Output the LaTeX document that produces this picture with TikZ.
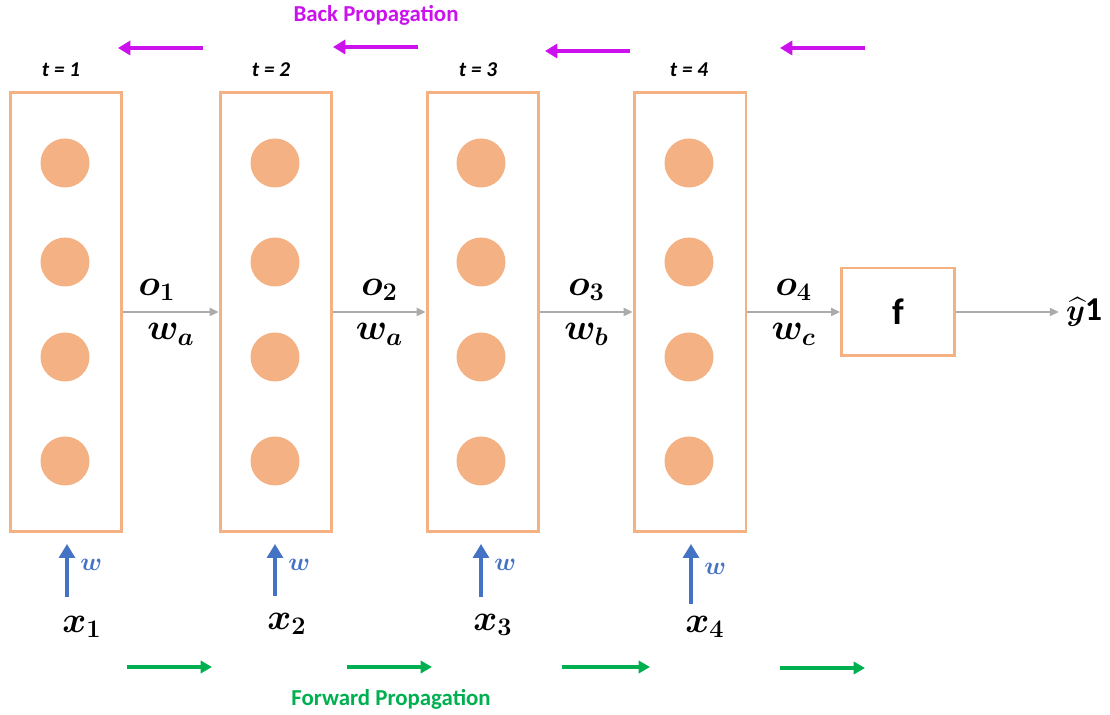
\documentclass[tikz,border=0pt]{standalone}
\usepackage{amsmath}
\usepackage{bm}
\usepackage{fontspec}
\setmainfont{Carlito}
\usetikzlibrary{arrows.meta,calc,positioning}
\definecolor{peach}{HTML}{F4B183}
\definecolor{flowgray}{HTML}{ABABAB}
\definecolor{backmag}{HTML}{CC11EE}
\definecolor{fwdgreen}{HTML}{00B050}
\definecolor{inblue}{HTML}{4472C4}
\tikzset{
  cell/.style={draw=peach,line width=1.7pt,minimum width=2.24cm,minimum height=8.78cm,inner sep=0pt},
  unit/.style={circle,fill=peach,minimum size=0.98cm,inner sep=0pt},
  flow/.style={draw=flowgray,line width=1.1pt,-{Triangle[length=5pt,width=4.5pt]}},
  backarr/.style={draw=backmag,line width=2.2pt,-{Triangle[length=7pt,width=8pt]}},
  fwdarr/.style={draw=fwdgreen,line width=1.8pt,-{Triangle[length=6.5pt,width=7pt]}},
  inarr/.style={draw=inblue,line width=2.5pt,-{Triangle[length=8pt,width=9pt]},shorten >=0.22cm},
  tlabel/.style={font=\fontsize{12}{12}\selectfont\bfseries\itshape},
  olabel/.style={font=\fontsize{20}{20}\selectfont,inner sep=1pt,above,yshift=5pt},
  wlabel/.style={font=\fontsize{20}{20}\selectfont,inner sep=1pt,below,yshift=-5pt},
  inlabel/.style={text=inblue,font=\fontsize{15}{15}\selectfont,right,xshift=3pt},
  xlabel/.style={font=\fontsize{22}{22}\selectfont},
  proplabel/.style={font=\fontsize{13}{13}\selectfont\bfseries}
}
\begin{document}
\begin{tikzpicture}[x=0.02cm,y=-0.02cm]
  \useasboundingbox (0,0) rectangle (1110,715);
  %Time step cells
  \node[cell] (c1) at (66,312) {};
  \node[cell] (c2) at (276,312) {};
  \node[cell] (c3) at (483,312) {};
  \node[cell] (c4) at (690,312) {};
  \foreach \i/\x in {1/65,2/275,3/481,4/689}
    \foreach \j/\y in {1/163,2/262,3/357,4/461}
      \node[unit] (u\i\j) at (\x,\y) {};
  \node[tlabel] (t1) at (61,70) {t = 1};
  \node[tlabel] (t2) at (271,70) {t = 2};
  \node[tlabel] (t3) at (478,70) {t = 3};
  \node[tlabel] (t4) at (689,70) {t = 4};
  %Output
  \node[cell,minimum width=2.26cm,minimum height=1.76cm] (f) at (898,312)
    {\fontsize{21}{21}\selectfont\bfseries f};
  \node[anchor=west,inner sep=1pt,font=\fontsize{19}{19}\selectfont] (yhat) at (1064,312)
    {$\widehat{\bm{y}}\mathbf{1}$};
  %Draw lines
  \draw[flow] (c1) -- (c2) node[midway,olabel,xshift=-8pt] {$\bm{o_1}$}
    node[midway,wlabel] {$\bm{w_a}$};
  \draw[flow] (c2) -- (c3) node[midway,olabel] {$\bm{o_2}$}
    node[midway,wlabel] {$\bm{w_a}$};
  \draw[flow] (c3) -- (c4) node[midway,olabel] {$\bm{o_3}$}
    node[midway,wlabel] {$\bm{w_b}$};
  \draw[flow] (c4) -- (f) node[midway,olabel] {$\bm{o_4}$}
    node[midway,wlabel] {$\bm{w_c}$};
  \draw[flow,shorten >=3pt] (f) -- (yhat.west);
  %Inputs
  \node[xlabel] (x1) at (82,627) {$\bm{x_1}$};
  \node[xlabel] (x2) at (287,624) {$\bm{x_2}$};
  \node[xlabel] (x3) at (493,625) {$\bm{x_3}$};
  \node[xlabel] (x4) at (705,627) {$\bm{x_4}$};
  \coordinate (a1) at (67,597);
  \coordinate (a2) at (275,596);
  \coordinate (a3) at (481,597);
  \coordinate (a4) at (691,604);
  \draw[inarr] (a1) -- (a1 |- c1.south) node[midway,inlabel] {$\bm{w}$};
  \draw[inarr] (a2) -- (a2 |- c2.south) node[midway,inlabel] {$\bm{w}$};
  \draw[inarr] (a3) -- (a3 |- c3.south) node[midway,inlabel] {$\bm{w}$};
  \draw[inarr] (a4) -- (a4 |- c4.south) node[midway,inlabel] {$\bm{w}$};
  %Propagation arrows
  \node[proplabel,text=backmag] (bp) at (376,15) {Back Propagation};
  \node[proplabel,text=fwdgreen] (fp) at (391,699) {Forward Propagation};
  \foreach \xa/\xb/\y in {203/118/48, 418/333/47, 630/545/51, 865/780/48}
    \draw[backarr] (\xa,\y) -- (\xb,\y);
  \foreach \xa/\xb/\y in {127/212/667, 347/432/667, 562/650/667, 780/865/668}
    \draw[fwdarr] (\xa,\y) -- (\xb,\y);
\end{tikzpicture}
\end{document}
